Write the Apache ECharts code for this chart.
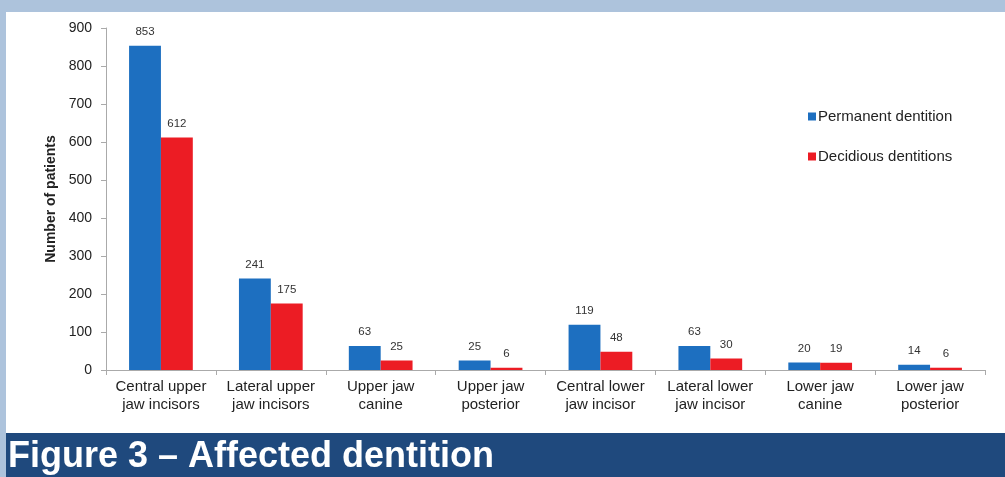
<!DOCTYPE html>
<html><head><meta charset="utf-8">
<script src="https://cdn.jsdelivr.net/npm/echarts@6/dist/echarts.min.js"></script>
<style>html,body{margin:0;padding:0;background:#adc3dc;}#c{width:1005px;height:477px;}</style>
</head><body><div id="c"></div>
<script>
const categories = ["Central upper\njaw incisors","Lateral upper\njaw incisors","Upper jaw\ncanine","Upper jaw\nposterior","Central lower\njaw incisor","Lateral lower\njaw incisor","Lower jaw\ncanine","Lower jaw\nposterior"];
const permanent = [853,241,63,25,119,63,20,14];
const deciduous = [612,175,25,6,48,30,19,6];
const yTicks = [0,100,200,300,400,500,600,700,800,900];

const chart = echarts.init(document.getElementById('c'), null, {renderer:'canvas'});
const lbl = {show:true, position:'top', distance:8, color:'#333', fontSize:11.5, fontFamily:'Liberation Sans, Arial'};
chart.setOption({
  animation:false,
  backgroundColor:'#adc3dc',
  graphic:[
    {type:'rect', shape:{x:6,y:12,width:999,height:421}, style:{fill:'#ffffff'}, z:-10},
    {type:'rect', shape:{x:6,y:433,width:999,height:44}, style:{fill:'#1f497d'}, z:-10},
    {type:'text', left:8, top:439, style:{text:'Figure 3 – Affected dentition', fill:'#ffffff', font:'bold 36px "Liberation Sans", Arial'}}
  ],
  legend:{
    orient:'vertical', left:803, top:104, itemGap:25, itemWidth:8, itemHeight:8, icon:'rect',
    textStyle:{fontSize:15, color:'#222', fontFamily:'Liberation Sans, Arial', padding:[0,0,0,-3]},
    data:['Permanent dentition','Decidious dentitions']
  },
  grid:{left:106, right:20, top:28, bottom:107},
  xAxis:{
    type:'category', data:categories,
    axisLine:{lineStyle:{color:'#aaaaaa'}},
    axisTick:{show:true, length:5, lineStyle:{color:'#aaaaaa'}},
    axisLabel:{color:'#222', fontSize:15, fontFamily:'Liberation Sans, Arial', lineHeight:18, margin:8, interval:0}
  },
  yAxis:{
    type:'value', min:0, max:900, interval:100,
    name:'Number of patients', nameLocation:'middle', nameGap:47, nameRotate:90,
    nameTextStyle:{fontWeight:'bold', fontSize:14, color:'#222', fontFamily:'Liberation Sans, Arial'},
    axisLine:{show:true, lineStyle:{color:'#aaaaaa'}},
    axisTick:{show:true, length:5, lineStyle:{color:'#aaaaaa'}},
    splitLine:{show:false},
    axisLabel:{color:'#222', fontSize:14, fontFamily:'Liberation Sans, Arial', margin:14,
      formatter:v=> yTicks.includes(v)? String(v):''}
  },
  series:[
    {name:'Permanent dentition', type:'bar', data:permanent, itemStyle:{color:'#1d6fc0'}, barGap:'0%', barCategoryGap:'42%', label:lbl},
    {name:'Decidious dentitions', type:'bar', data:deciduous, itemStyle:{color:'#ec1c24'}, label:lbl}
  ]
});
</script></body></html>
